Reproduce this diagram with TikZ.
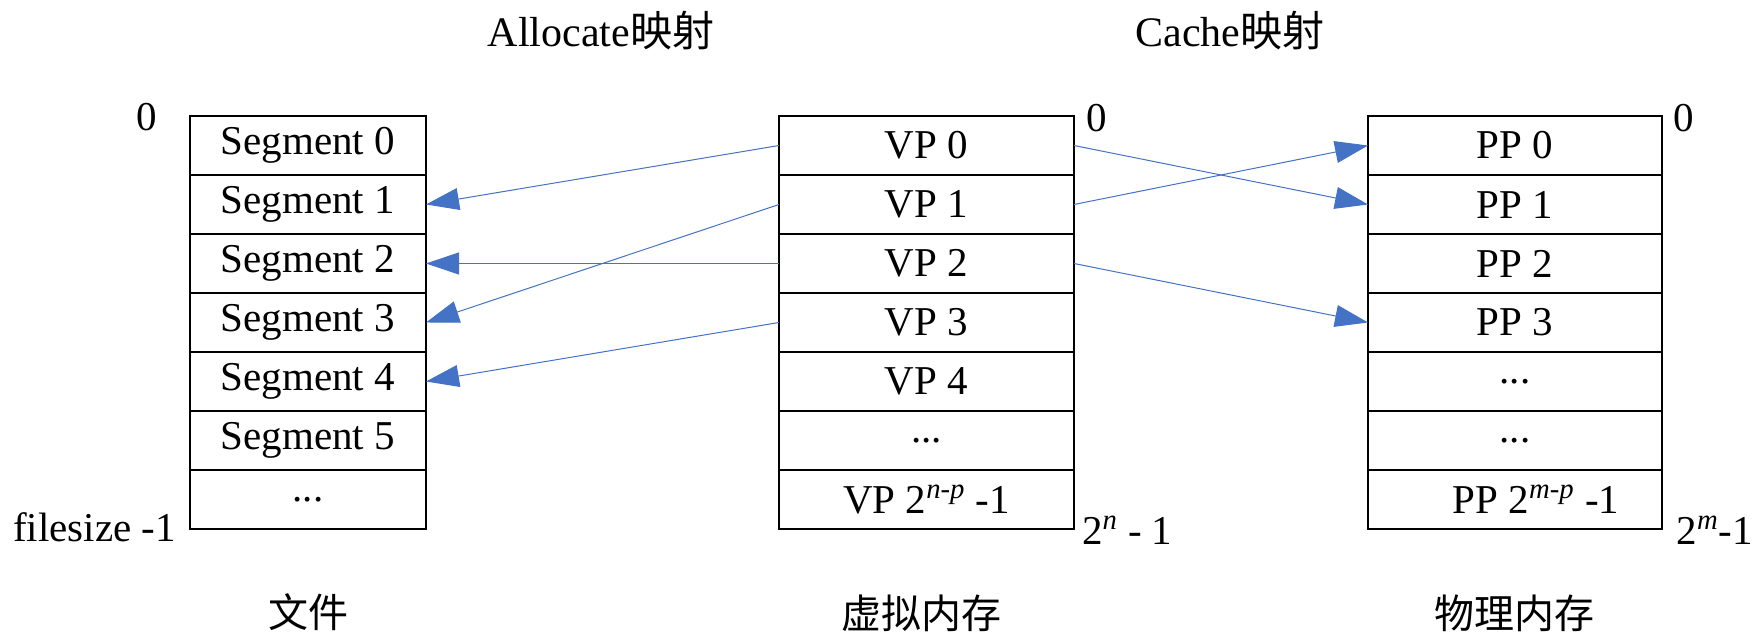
\documentclass[tikz,border=0pt]{standalone}
\usepackage{fontspec}
\setmainfont{Liberation Serif}
\newfontfamily\cjk{Noto Sans CJK SC}
\usetikzlibrary{arrows.meta}
\definecolor{linkblue}{HTML}{4472C4}
\begin{document}
\begin{tikzpicture}[x=0.5pt,y=-0.5pt,
  every node/.style={inner sep=0pt,outer sep=0pt,font=\fontsize{20.5pt}{24pt}\selectfont},
  cellL/.style={draw,line width=0.75pt,minimum width=118pt,minimum height=29.5pt},
  cellM/.style={draw,line width=0.75pt,minimum width=147.5pt,minimum height=29.5pt},
  cellR/.style={draw,line width=0.75pt,minimum width=147pt,minimum height=29.5pt},
  link/.style={draw=linkblue,line width=0.5pt,-{Triangle[length=16.5pt,width=11pt,fill=linkblue]}},
  cjklabel/.style={font=\fontsize{20pt}{24pt}\selectfont\cjk},
  title/.style={font=\fontsize{21pt}{25pt}\selectfont}
]
\useasboundingbox (0,0) rectangle (1758,635);
% left column
\node[cellL] (s0) at (308,145.5) {Segment 0};
\node[cellL] (s1) at (308,204.5) {Segment 1};
\node[cellL] (s2) at (308,263.5) {Segment 2};
\node[cellL] (s3) at (308,322.5) {Segment 3};
\node[cellL] (s4) at (308,381.5) {Segment 4};
\node[cellL] (s5) at (308,440.5) {Segment 5};
\node[cellL] (s6) at (308,499.5) {...};
% middle column
\node[cellM] (v0) at (926.5,145.5) {VP 0};
\node[cellM] (v1) at (926.5,204.5) {VP 1};
\node[cellM] (v2) at (926.5,263.5) {VP 2};
\node[cellM] (v3) at (926.5,322.5) {VP 3};
\node[cellM] (v4) at (926.5,381.5) {VP 4};
\node[cellM] (v5) at (926.5,440.5) {...};
\node[cellM] (v6) at (926.5,499.5) {VP 2\textsuperscript{\textit{n-p}} -1};
% right column
\node[cellR] (p0) at (1515,145.5) {PP 0};
\node[cellR] (p1) at (1515,204.5) {PP 1};
\node[cellR] (p2) at (1515,263.5) {PP 2};
\node[cellR] (p3) at (1515,322.5) {PP 3};
\node[cellR] (p4) at (1515,381.5) {...};
\node[cellR] (p5) at (1515,440.5) {...};
\node[cellR] (p6) at (1515,499.5) {\hspace*{21pt}PP 2\textsuperscript{\textit{m-p}} -1};
% index labels
\node (z0) at (147,117) {0};
\node (z1) at (1097,118) {0};
\node (z2) at (1684,118) {0};
\node[anchor=base east] (fs) at (176,542) {filesize -1};
\node[anchor=base west] (vn) at (1082,545) {2\textsuperscript{\textit{n}} - 1};
\node[anchor=base east] (pm) at (1753,545) {2\textsuperscript{\textit{m}}-1};
% titles
\node[title,anchor=base] (ta) at (601,47) {Allocate{\cjk 映射}};
\node[title,anchor=base] (tc) at (1230,47) {Cache{\cjk 映射}};
\node[cjklabel] (lf) at (308,612) {文件};
\node[cjklabel] (lv) at (921,613) {虚拟内存};
\node[cjklabel] (lp) at (1514,613) {物理内存};
% allocate mapping
\draw[link] (v0.west) -- (s1.east);
\draw[link] (v1.west) -- (s3.east);
\draw[link] (v2.west) -- (s2.east);
\draw[link] (v3.west) -- (s4.east);
% cache mapping
\draw[link] (v0.east) -- (p1.west);
\draw[link] (v1.east) -- (p0.west);
\draw[link] (v2.east) -- (p3.west);
\end{tikzpicture}
\end{document}
